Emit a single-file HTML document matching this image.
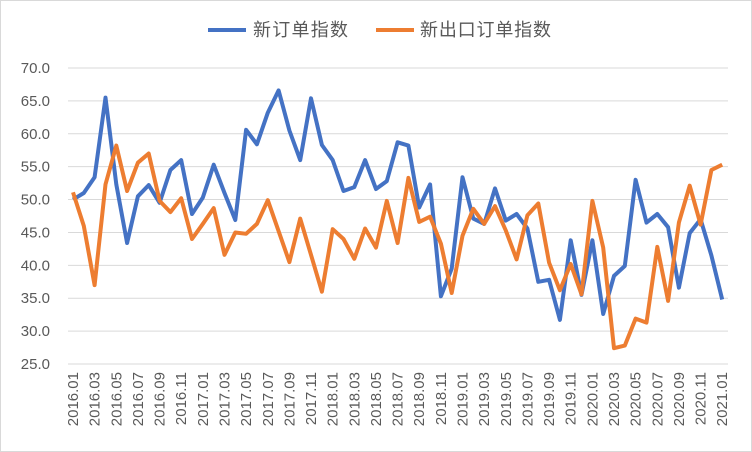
<!DOCTYPE html>
<html><head><meta charset="utf-8"><style>body{margin:0;background:#fff}svg{display:block}</style></head>
<body>
<svg id="s" width="752" height="452" xmlns="http://www.w3.org/2000/svg" font-family="Liberation Sans, Noto Sans CJK SC, sans-serif">
<rect x="0.5" y="0.5" width="751" height="451" fill="#fff" stroke="#d9d9d9"/>
<g id="grid"></g>
<line x1="208" y1="30" x2="246" y2="30" stroke="#4472c4" stroke-width="4"/>
<text x="253" y="36" font-size="18" fill="#595959" textLength="95">新订单指数</text>
<line x1="376" y1="30" x2="414" y2="30" stroke="#ed7d31" stroke-width="4"/>
<text x="420" y="36" font-size="18" fill="#595959" textLength="131">新出口订单指数</text>
<g id="series"></g>
</svg>
<script>
const Y=v=>68+(70-v)*6.578, X=i=>73+10.82*i;
const g=document.getElementById('grid');
let h='';
for(let v=25;v<=70;v+=5){const y=Y(v);h+=`<line x1="68" x2="728" y1="${y}" y2="${y}" stroke="#d9d9d9" stroke-width="1"/>`;
h+=`<text x="50" y="${y+5}" font-size="15" fill="#595959" text-anchor="end">${v.toFixed(1)}</text>`;}
for(let i=0;i<=60;i+=2){const yr=2016+Math.floor(i/12),m=i%12+1;
const x=X(i)+5;h+=`<text transform="translate(${x},372) rotate(-90)" font-size="15" fill="#595959" text-anchor="end">${yr}.${String(m).padStart(2,'0')}</text>`;}
g.innerHTML=h;
const b=[50.0,51.0,53.4,65.5,52.3,43.4,50.5,52.2,49.5,54.5,56.0,47.8,50.3,55.3,51.0,46.9,60.6,58.4,63.2,66.6,60.5,56.0,65.4,58.3,56.0,51.3,51.9,56.0,51.6,52.8,58.7,58.2,48.8,52.3,35.3,39.5,53.4,47.1,46.3,51.7,46.8,47.8,45.6,37.5,37.8,31.7,43.8,35.5,43.8,32.6,38.4,39.9,53.0,46.5,47.8,45.8,36.6,44.9,47.0,41.5,34.8];
const o=[51.1,46.0,37.0,52.3,58.2,51.3,55.6,57.0,49.8,48.1,50.2,44.0,46.3,48.7,41.6,45.0,44.8,46.3,49.9,45.2,40.5,47.1,41.6,36.0,45.5,44.0,41.0,45.6,42.7,49.8,43.4,53.3,46.6,47.4,43.3,35.8,44.5,48.6,46.3,49.0,45.3,40.9,47.6,49.4,40.4,36.2,40.2,35.6,49.8,42.7,27.4,27.8,31.9,31.3,42.8,34.6,46.5,52.1,46.2,54.5,55.3];
const p=(d,c)=>`<polyline fill="none" stroke="${c}" stroke-width="4" stroke-linejoin="round" points="${d.map((v,i)=>X(i).toFixed(1)+','+Y(v).toFixed(1)).join(' ')}"/>`;
document.getElementById('series').innerHTML=p(b,'#4472c4')+p(o,'#ed7d31');
</script>
</body></html>
